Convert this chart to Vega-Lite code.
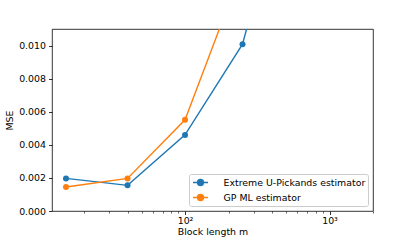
{
  "$schema": "https://vega.github.io/schema/vega-lite/v6.json",
  "width": 321,
  "height": 182,
  "autosize": {"type": "none"},
  "padding": {"left": 52, "top": 29, "right": 42, "bottom": 31},
  "background": "white",
  "config": {
    "font": "DejaVu Sans",
    "view": {"stroke": "#000", "strokeWidth": 0.8},
    "axis": {
      "grid": false,
      "domain": false,
      "labelFont": "DejaVu Sans",
      "labelFontSize": 9.4,
      "labelColor": "#000",
      "titleFont": "DejaVu Sans",
      "titleFontSize": 9.4,
      "titleFontWeight": "normal",
      "titleColor": "#000",
      "tickColor": "#000",
      "tickWidth": 0.8,
      "tickSize": 3.5,
      "labelPadding": 2
    },
    "legend": {
      "labelFont": "DejaVu Sans",
      "labelFontSize": 9.4,
      "labelColor": "#000"
    }
  },
  "data": {
    "values": [
      {"m": 15, "mse": 0.00197, "method": "Extreme U-Pickands estimator"},
      {"m": 40, "mse": 0.00155, "method": "Extreme U-Pickands estimator"},
      {"m": 100, "mse": 0.0046, "method": "Extreme U-Pickands estimator"},
      {"m": 250, "mse": 0.01008, "method": "Extreme U-Pickands estimator"},
      {"m": 500, "mse": 0.0199, "method": "Extreme U-Pickands estimator"},
      {"m": 15, "mse": 0.00145, "method": "GP ML estimator"},
      {"m": 40, "mse": 0.00197, "method": "GP ML estimator"},
      {"m": 100, "mse": 0.00551, "method": "GP ML estimator"},
      {"m": 250, "mse": 0.0147, "method": "GP ML estimator"},
      {"m": 500, "mse": 0.03, "method": "GP ML estimator"}
    ]
  },
  "mark": {
    "type": "line",
    "clip": true,
    "strokeWidth": 1.4,
    "point": {"filled": true, "size": 36, "opacity": 1}
  },
  "encoding": {
    "x": {
      "field": "m",
      "type": "quantitative",
      "scale": {"type": "log", "domain": [12, 2000], "nice": false},
      "axis": {
        "title": "Block length m",
        "titlePadding": 3,
        "values": [20, 30, 40, 50, 60, 70, 80, 90, 100, 200, 300, 400, 500, 600, 700, 800, 900, 1000, 2000],
        "labelExpr": "datum.value == 100 ? '10²' : (datum.value == 1000 ? '10³' : '')",
        "tickSize": {"condition": {"test": "datum.value == 100 || datum.value == 1000", "value": 3.5}, "value": 2},
        "tickWidth": {"condition": {"test": "datum.value == 100 || datum.value == 1000", "value": 0.8}, "value": 0.6},
        "labelFlush": false
      }
    },
    "y": {
      "field": "mse",
      "type": "quantitative",
      "scale": {"domain": [0, 0.011], "nice": false, "zero": true},
      "axis": {
        "title": "MSE",
        "titlePadding": 4,
        "values": [0, 0.002, 0.004, 0.006, 0.008, 0.01],
        "format": ".3f",
        "labelPadding": 3
      }
    },
    "color": {
      "field": "method",
      "type": "nominal",
      "scale": {"range": ["#1f77b4", "#ff7f0e"]},
      "legend": {
        "title": null,
        "orient": "bottom-right",
        "offset": 5,
        "fillColor": "white",
        "strokeColor": "#cccccc",
        "cornerRadius": 2,
        "padding": 2.5,
        "rowPadding": 3,
        "symbolOffset": 3,
        "labelOffset": 17,
        "symbolType": "M-1.5,0H1.5M-0.6,0A0.6,0.6,0,1,1,0.6,0A0.6,0.6,0,1,1,-0.6,0Z",
        "symbolSize": 100,
        "symbolStrokeWidth": 1.4,
        "encode": {
          "symbols": {"update": {"fill": {"scale": "color", "field": "value"}, "opacity": {"value": 1}}}
        }
      }
    }
  }
}
